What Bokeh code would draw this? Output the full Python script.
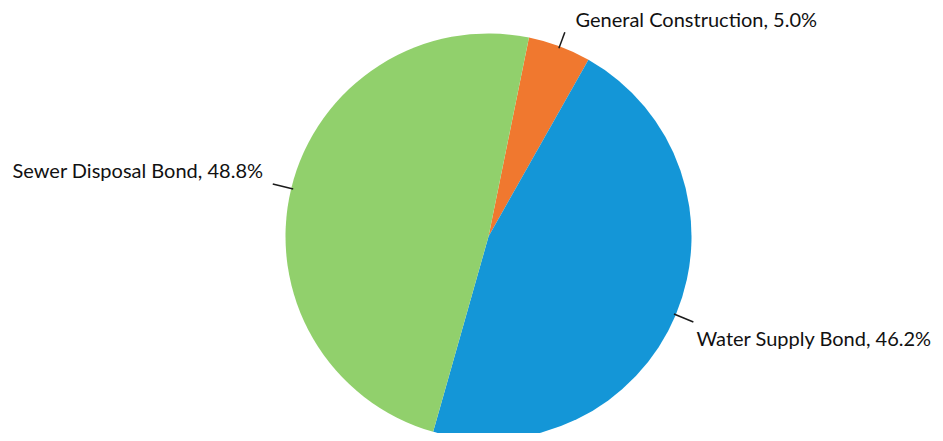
import math
from bokeh.plotting import figure
from bokeh.models import Range1d, ColumnDataSource
from bokeh.core.properties import value
from bokeh.embed import file_html
from bokeh.resources import INLINE

# Data (clockwise order, starting just right of 12 o'clock)
categories = ["General Construction", "Water Supply Bond", "Sewer Disposal Bond"]
shares = [5.0, 46.2, 48.8]
colors = ["#F0782F", "#1496D7", "#91D06C"]
labels = ["General Construction, 5.0%", "Water Supply Bond, 46.2%", "Sewer Disposal Bond, 48.8%"]

W, H = 935, 433
p = figure(width=W, height=H, output_backend="svg", toolbar_location=None,
           x_range=Range1d(0, W), y_range=Range1d(441 - H, 441),
           min_border=0, outline_line_color=None)
p.axis.visible = False
p.grid.visible = False
p.background_fill_color = "white"

# geometry (data units = pixels; y up, screen y = 441 - data y)
cx, cy = 488, 441 - 236
R = 203
start_cw = 11.5  # degrees clockwise from 12 o'clock

total = sum(shares)
starts, ends, mids = [], [], []
acc = start_cw
for s in shares:
    a0 = acc
    a1 = acc + s / total * 360.0
    starts.append(math.radians(90 - a1))
    ends.append(math.radians(90 - a0))
    mids.append((a0 + a1) / 2)
    acc = a1

src = ColumnDataSource(dict(start=starts, end=ends, color=colors, cat=categories))
p.wedge(x=cx, y=cy, radius=R, radius_units="screen", start_angle="start", end_angle="end",
        direction="anticlock", fill_color="color", line_color=None, source=src)

# leader lines
r_in = [201, 201, 201]
r_out = [218, 222, 222]
xs, ys = [], []
for m, ri, ro in zip(mids, r_in, r_out):
    t = math.radians(m)
    xs.append([cx + ri * math.sin(t), cx + ro * math.sin(t)])
    ys.append([cy + ri * math.cos(t), cy + ro * math.cos(t)])
p.multi_line(xs=xs, ys=ys, line_color="#1a1a1a", line_width=1.5)

# labels
lx = [575, 696, 12]
ly = [441 - 18, 441 - 337, 441 - 169]
p.text(x=lx, y=ly, text=labels, text_font=value("Lato"), text_font_size="20px",
       text_color="#111111", text_align="left", text_baseline="middle")

open("out.html", "w").write(file_html(p, INLINE))
